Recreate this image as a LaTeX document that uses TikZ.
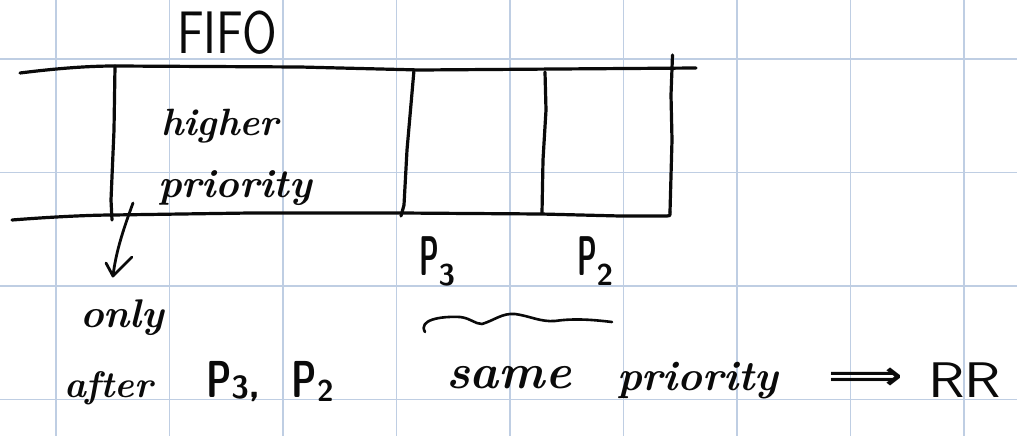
\documentclass[tikz,border=0pt]{standalone}
\usepackage{fontspec}
\newfontfamily\arrowfont{DejaVu Sans}
\usetikzlibrary{arrows.meta}
\definecolor{gridblue}{HTML}{BFCEE3}
\definecolor{ink}{HTML}{0A0A0A}
\tikzset{
  pen/.style={draw=ink, line width=3.2pt, line cap=round, line join=round},
  gridline/.style={draw=gridblue, line width=1.6pt},
  hand/.style={inner sep=0pt, outer sep=0pt, text=ink, anchor=base west},
}
\begin{document}
\begin{tikzpicture}[x=1pt,y=-1pt]
\useasboundingbox (0,0) rectangle (1017,436);
\fill[white] (0,0) rectangle (1017,436);
% grid
\foreach \gx in {56,169.5,283,396.5,510,623.5,737,850.5,964}
  \draw[gridline] (\gx,0) -- (\gx,436);
\foreach \gy in {59,172.5,286,399.5}
  \draw[gridline] (0,\gy) -- (1017,\gy);

% queue box
\draw[pen] (20,73) .. controls (60,68) and (90,66) .. (115,66) -- (300,67) -- (420,70) -- (696,68);
\draw[pen] (12,220) .. controls (50,217) and (90,215) .. (113,215) -- (250,213) -- (400,213) -- (541,214) -- (620,216) -- (667,216) .. controls (670,216) .. (670,212);
\draw[pen] (115,66) -- (114,130) -- (111,200) -- (112,220);
\draw[pen] (414,70) -- (407,150) -- (404,205) -- (401,216);
\draw[pen] (545,72) -- (546,110) -- (543,160) -- (542,213);
\draw[pen] (672.5,55) -- (671,95) -- (672,140) -- (670,212);

% texts
\node[hand, font=\sffamily\fontsize{50}{55}\selectfont] (fifo) at (177,53) {\scalebox{1}[1.2]{FIFO}};
\node[hand, font=\bfseries\itshape\fontsize{38}{44}\selectfont] (higher) at (161,135) {higher};
\node[hand, font=\bfseries\itshape\fontsize{40}{46}\selectfont] (prio1) at (158,197) {priority};
\node[hand, font=\sffamily\bfseries\fontsize{40}{44}\selectfont] (p3lbl) at (419,275) {\scalebox{0.7}[1.4]{P}\raisebox{-10pt}{\fontsize{30}{32}\selectfont 3}};
\node[hand, font=\sffamily\bfseries\fontsize{40}{44}\selectfont] (p2lbl) at (577,275) {\scalebox{0.7}[1.4]{P}\raisebox{-10pt}{\fontsize{30}{32}\selectfont 2}};
\node[hand, font=\bfseries\itshape\fontsize{40}{46}\selectfont] (only) at (80,327) {only};
\node[hand, font=\bfseries\itshape\fontsize{37}{42}\selectfont] (after) at (64,397) {after};
\node[hand, font=\sffamily\bfseries\fontsize{40}{44}\selectfont] (p3p2) at (206,397) {\scalebox{0.9}[1.3]{P}\raisebox{-1pt}{\fontsize{32}{34}\selectfont 3}, \hspace{16pt}\scalebox{0.9}[1.3]{P}\raisebox{-4pt}{\fontsize{30}{32}\selectfont 2}};
\node[hand, font=\bfseries\itshape\fontsize{49}{55}\selectfont] (same) at (446,388) {same};
\node[hand, font=\bfseries\itshape\fontsize{42}{48}\selectfont] (prio2) at (617,390) {priority};
\node[inner sep=0pt, text=ink, font=\arrowfont\bfseries\fontsize{40}{44}\selectfont] (impl) at (866,379) {\scalebox{1.3}[1]{⟹}};
\node[hand, font=\sffamily\fontsize{50}{55}\selectfont] (rr) at (928,397) {\scalebox{1.2}[1]{RR}};

% arrow from queue head to note
\coordinate (arrS) at (133,203);
\coordinate (arrE) at (113,276);
\draw[pen, line width=2.8pt] (arrS) .. controls (125,225) and (116,250) .. (arrE);
\draw[pen, line width=2.8pt] (106,263) -- (arrE) -- (132,257);

% wavy brace under P3 P2
\coordinate (wavS) at (425,332);
\coordinate (wavE) at (612,322);
\draw[pen, line width=2.6pt] (wavS) .. controls (418,320) and (440,316) .. (460,317)
  .. controls (470,318) and (475,324) .. (482,324)
  .. controls (495,320) and (502,313) .. (515,314)
  .. controls (530,316) and (540,322) .. (555,321)
  .. controls (575,318) and (595,320) .. (wavE);
\end{tikzpicture}
\end{document}
